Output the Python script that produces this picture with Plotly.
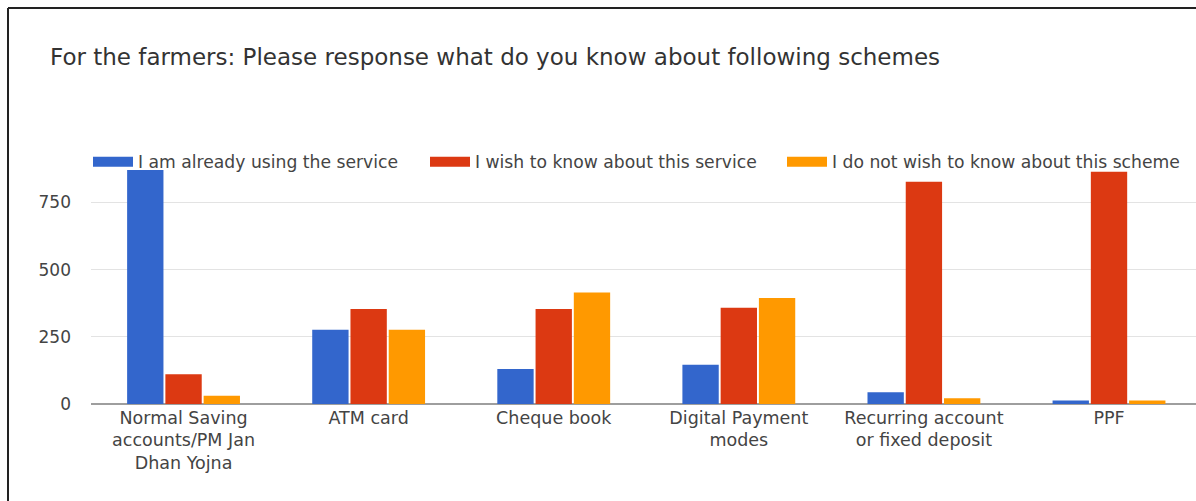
import plotly.graph_objects as go

categories = [
    "Normal Saving<br>accounts/PM Jan<br>Dhan Yojna",
    "ATM card",
    "Cheque book",
    "Digital Payment<br>modes",
    "Recurring account<br>or fixed deposit",
    "PPF",
]
series_names = [
    "I am already using the service",
    "I wish to know about this service",
    "I do not wish to know about this scheme",
]
already_using = [870, 276, 130, 146, 44, 13]
wish_to_know = [111, 353, 353, 358, 827, 864]
not_wish = [31, 276, 415, 394, 21, 13]
colors = ["#3366cc", "#dc3912", "#ff9900"]
y_ticks = [0, 250, 500, 750]

series_values = [already_using, wish_to_know, not_wish]

W, H = 1196, 501
L, T, B = 91, 162, 97
pw = W - L
ph = H - T - B
FONT = "DejaVu Sans, Liberation Sans, Arial, sans-serif"

legend_ids = ["legend", "legend2", "legend3"]
legend_px = [93, 430, 787]

fig = go.Figure()
for name, vals, col in zip(series_names, series_values, colors):
    fig.add_trace(go.Bar(x=categories, y=vals, name=name, marker=dict(color=col, line=dict(width=0)),
                         showlegend=False, legendgroup=name))
for name, col, lid in zip(series_names, colors, legend_ids):
    fig.add_trace(go.Scatter(x=[None], y=[None], mode="lines", name=name, legend=lid,
                             line=dict(color=col, width=14), legendgroup=name, showlegend=True))

legend_common = dict(orientation="h", xanchor="left", y=1.0, yanchor="middle",
                     font=dict(size=17.2, color="#444", family=FONT),
                     itemwidth=40, bgcolor="rgba(0,0,0,0)")

layout_legends = {}
for lid, px in zip(legend_ids, legend_px):
    layout_legends[lid] = dict(legend_common, x=(px - 5 - L) / pw)

fig.update_layout(
    width=W, height=H,
    margin=dict(l=L, r=0, t=T, b=B, pad=0),
    paper_bgcolor="white", plot_bgcolor="white",
    font=dict(family=FONT, color="#444", size=17),
    title=dict(text="For the farmers: Please response what do you know about following schemes",
               x=50 / W, xanchor="left", y=1 - 57 / H, yanchor="middle",
               font=dict(size=23, color="#333", family=FONT)),
    barmode="group", bargap=0.38, bargroupgap=0.05,
    xaxis=dict(range=[-0.5, 5.47], showgrid=False, showline=False, zeroline=False,
               tickfont=dict(size=17.5, color="#444", family=FONT), ticks="", fixedrange=True,
               ticklabelstandoff=1),
    yaxis=dict(range=[0, 900], tickvals=y_ticks, showgrid=True, gridcolor="#e3e3e3", gridwidth=1,
               zeroline=True, zerolinecolor="#9e9e9e", zerolinewidth=2, showline=False,
               tickfont=dict(size=17, color="#444", family=FONT), ticklabelstandoff=19,
               fixedrange=True),
    shapes=[
        dict(type="line", xref="paper", yref="paper", x0=(8 - L) / pw, x1=(W + 10 - L) / pw,
             y0=(H - B - 8) / ph, y1=(H - B - 8) / ph, line=dict(color="#222", width=2)),
        dict(type="line", xref="paper", yref="paper", x0=(8 - L) / pw, x1=(8 - L) / pw,
             y0=(H - B - 8) / ph, y1=-(B + 10) / ph, line=dict(color="#222", width=2)),
    ],
    **layout_legends,
)

fig.write_html("out.html", config={"displayModeBar": False},
               post_script="document.body.style.margin='0px';")
